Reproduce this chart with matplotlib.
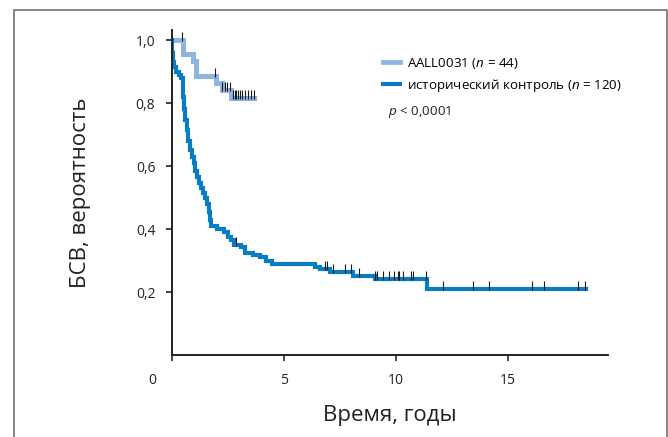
import matplotlib
matplotlib.use("Agg")
import matplotlib.pyplot as plt
import numpy as np
from matplotlib.lines import Line2D
from matplotlib.path import Path
from matplotlib.transforms import ScaledTranslation

plt.rcParams["font.family"] = ["Open Sans", "DejaVu Sans"]
plt.rcParams["mathtext.fontset"] = "custom"
plt.rcParams["mathtext.rm"] = "Open Sans"
plt.rcParams["mathtext.it"] = "Open Sans:italic"

# AALL0031 arm: times of each drop (years) and survival after the drop
trial_time = [0.0, 0.48, 0.95, 1.08, 1.95, 2.22, 2.62]
trial_surv = [1.0, 0.955, 0.932, 0.886, 0.864, 0.841, 0.815]
trial_end = 3.66
trial_censor = [0.44, 1.9, 2.25, 2.35, 2.46, 2.57, 2.72, 2.8, 2.87, 2.95,
                3.02, 3.13, 3.24, 3.39, 3.54, 3.65]

# historical control arm
ctrl_time = [0.0, 0.02, 0.05, 0.1, 0.2, 0.3, 0.42, 0.47, 0.5, 0.54, 0.58,
             0.65, 0.72, 0.8, 0.9, 0.97, 1.02, 1.12, 1.2, 1.3, 1.38, 1.47,
             1.58, 1.65, 1.7, 1.76, 2.0, 2.3, 2.5, 2.65, 2.78, 3.1, 3.25,
             3.6, 3.95, 4.2, 4.45, 6.38, 6.61, 7.05, 8.09, 9.06, 11.37]
ctrl_surv = [1.0, 0.96, 0.93, 0.915, 0.90, 0.89, 0.88, 0.85, 0.82, 0.78,
             0.745, 0.715, 0.68, 0.65, 0.63, 0.61, 0.585, 0.565, 0.545, 0.53,
             0.515, 0.50, 0.48, 0.455, 0.43, 0.41, 0.40, 0.39, 0.375, 0.365,
             0.35, 0.343, 0.325, 0.318, 0.312, 0.298, 0.29, 0.278, 0.272,
             0.264, 0.252, 0.24, 0.21]
ctrl_end = 18.5
ctrl_censor = [2.86, 6.83, 6.9, 7.2, 7.72, 7.99, 8.35, 9.06, 9.14, 9.41, 9.69,
               9.93, 10.07, 10.15, 10.33, 10.67, 10.74, 11.33, 12.11, 13.42,
               14.15, 16.06, 16.6, 18.11, 18.44]

trial_label = "AALL0031 ($n$ = 44)"
ctrl_label = "исторический контроль ($n$ = 120)"

light_blue = "#8db5e0"
dark_blue = "#0a7cc2"

# censor tick: short bar sitting on top of the curve
censor_mark = Path([(0, -0.1), (0, 1.0)], [Path.MOVETO, Path.LINETO])


def surv_at(times, surv, t):
    idx = np.searchsorted(times, t, side="right") - 1
    return np.asarray(surv)[idx]


def draw_km(ax, times, surv, end, censor, color, lw):
    x = np.append(times, end)
    y = np.append(surv, surv[-1])
    ax.step(x, y, where="post", color=color, linewidth=lw,
            solid_joinstyle="miter", zorder=2)
    cy = surv_at(times, surv, censor)
    ax.plot(censor, cy, linestyle="none", marker=censor_mark, markersize=12,
            markeredgewidth=0.8, color="#1a1a1a", zorder=3)


fig = plt.figure(figsize=(6.68, 4.37), dpi=100)
ax = fig.add_axes([172 / 668, 1 - 355 / 437, 436 / 668, 325 / 437])

draw_km(ax, trial_time, trial_surv, trial_end, trial_censor, light_blue, 3.6)
draw_km(ax, ctrl_time, ctrl_surv, ctrl_end, ctrl_censor, dark_blue, 3.0)

ax.set_xlim(0, 19.46)
ax.set_ylim(0, 1.032)
ax.spines["top"].set_visible(False)
ax.spines["right"].set_visible(False)
for side in ("left", "bottom"):
    ax.spines[side].set_linewidth(1.4)
    ax.spines[side].set_color("#222222")

ax.set_xticks([0, 5, 10, 15])
ax.set_xticklabels(["0", "5", "10", "15"])
ax.set_yticks([0.2, 0.4, 0.6, 0.8, 1.0])
ax.set_yticklabels(["0,2", "0,4", "0,6", "0,8", "1,0"])
ax.tick_params(axis="both", direction="out", length=4, width=1.2,
               color="#222222", labelsize=10, labelcolor="#222222")
ax.tick_params(axis="x", pad=9)
ax.tick_params(axis="y", pad=8)
# the zero label sits left of the origin
zero = ax.get_xticklabels()[0]
zero.set_transform(zero.get_transform()
                   + ScaledTranslation(-0.2, 0, fig.dpi_scale_trans))

ax.set_xlabel("Время, годы", fontsize=16, color="#222222", labelpad=12)
ax.set_ylabel("БСВ, вероятность", fontsize=16, color="#222222", labelpad=32)

handles = [Line2D([], [], color=light_blue, linewidth=3.4),
           Line2D([], [], color=dark_blue, linewidth=3.0)]
ax.legend(handles, [trial_label, ctrl_label], loc="upper left",
          bbox_to_anchor=(383 / 668, 1 - 56 / 437),
          bbox_transform=fig.transFigure, frameon=False, fontsize=9.6,
          handlelength=1.3, handletextpad=0.5, labelspacing=0.45,
          borderpad=0, borderaxespad=0)
fig.text(388 / 668, 1 - 112 / 437, "$p$ < 0,0001", fontsize=9.6,
         color="#222222", va="center", ha="left")

# thin frame around the panel
frame = Line2D([14 / 668, 14 / 668, 666.5 / 668, 666.5 / 668],
               [0, 1 - 10 / 437, 1 - 10 / 437, 0],
               transform=fig.transFigure, color="#666666", linewidth=1.1)
fig.add_artist(frame)

fig.savefig("out.png", dpi=100)
